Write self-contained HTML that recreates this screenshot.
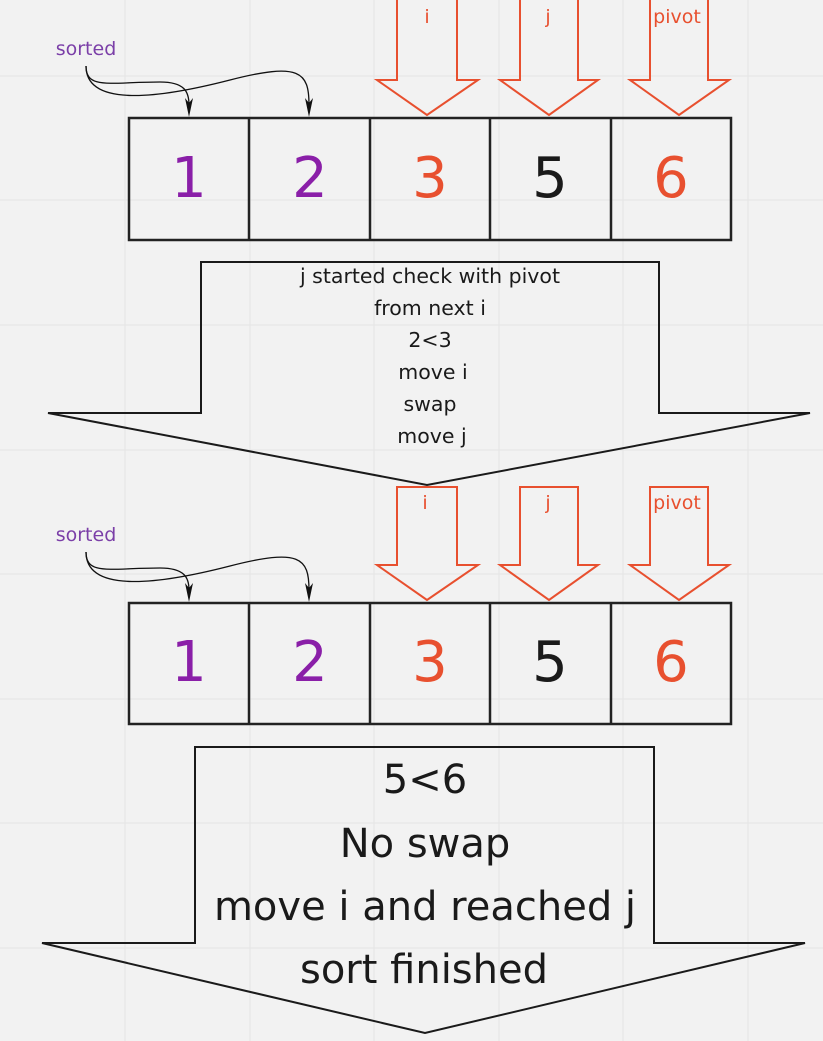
<!DOCTYPE html>
<html><head><meta charset="utf-8"><style>
body{margin:0;background:#f2f2f2;}
svg{display:block;font-family:"DejaVu Sans","Liberation Sans",sans-serif;}
</style></head><body>
<svg width="823" height="1041" viewBox="0 0 823 1041">
<g stroke="#e4e4e4" stroke-width="1">
<line x1="125" y1="0" x2="125" y2="1041"/><line x1="250" y1="0" x2="250" y2="1041"/><line x1="374" y1="0" x2="374" y2="1041"/><line x1="499" y1="0" x2="499" y2="1041"/><line x1="623" y1="0" x2="623" y2="1041"/><line x1="748" y1="0" x2="748" y2="1041"/>
<line x1="0" y1="76" x2="823" y2="76"/><line x1="0" y1="200" x2="823" y2="200"/><line x1="0" y1="325" x2="823" y2="325"/><line x1="0" y1="450" x2="823" y2="450"/><line x1="0" y1="574" x2="823" y2="574"/><line x1="0" y1="699" x2="823" y2="699"/><line x1="0" y1="823" x2="823" y2="823"/><line x1="0" y1="948" x2="823" y2="948"/>
</g>

<g>
<text x="86" y="55" font-size="19" fill="#7b3fa8" text-anchor="middle">sorted</text>
<path d="M86,66 C86,90 110,82 160,82 C185,82 189,92 189,105" fill="none" stroke="#111" stroke-width="1.3"/>
<path d="M86,66 C86,108 160,98 230,80 C300,62 309,72 309,105" fill="none" stroke="#111" stroke-width="1.3"/>
<path d="M185,98 L189,117 L193,98 L189,103 Z M305,98 L309,117 L313,98 L309,103 Z" fill="#111"/>
<g fill="none" stroke="#e8502f" stroke-width="2">
<path d="M397,0 V80 H377 L427,115 L478,80 H457 V0"/>
<path d="M520,0 V80 H500 L549,115 L598,80 H578 V0"/>
<path d="M650,0 V80 H630 L679,115 L729,80 H708 V0"/>
</g>
<g fill="#e8502f" font-size="19" text-anchor="middle">
<text x="427" y="23">i</text><text x="548" y="23">j</text><text x="677" y="23">pivot</text></g>
<g fill="none" stroke="#222" stroke-width="2.5">
<rect x="129" y="118" width="602" height="122"/>
<line x1="249" y1="118" x2="249" y2="240"/><line x1="370" y1="118" x2="370" y2="240"/><line x1="490" y1="118" x2="490" y2="240"/><line x1="611" y1="118" x2="611" y2="240"/></g>
<g font-size="56" text-anchor="middle">
<text x="189" y="197" fill="#8a1fa8">1</text><text x="310" y="197" fill="#8a1fa8">2</text><text x="430" y="197" fill="#e8502f">3</text><text x="550" y="197" fill="#1a1a1a">5</text><text x="671" y="197" fill="#e8502f">6</text></g>
<path d="M201,262 H659 V413 H810 L427,485 L48,413 H201 Z" fill="none" stroke="#1a1a1a" stroke-width="2"/>
<g font-size="20.5" fill="#1a1a1a" text-anchor="middle">
<text x="430" y="283">j started check with pivot</text><text x="430" y="315">from next i</text><text x="430" y="347">2&lt;3</text><text x="433" y="379">move i</text><text x="430" y="411">swap</text><text x="432" y="443">move j</text></g>
</g>

<g>
<text x="86" y="541" font-size="19" fill="#7b3fa8" text-anchor="middle">sorted</text>
<path d="M86,552 C86,576 110,568 160,568 C185,568 189,578 189,590" fill="none" stroke="#111" stroke-width="1.3"/>
<path d="M86,552 C86,594 160,584 230,566 C300,548 309,558 309,590" fill="none" stroke="#111" stroke-width="1.3"/>
<path d="M185,583 L189,602 L193,583 L189,588 Z M305,583 L309,602 L313,583 L309,588 Z" fill="#111"/>
<g fill="none" stroke="#e8502f" stroke-width="2">
<path d="M397,487 V565 H377 L427,600 L478,565 H457 V487 Z"/>
<path d="M520,487 V565 H500 L549,600 L598,565 H578 V487 Z"/>
<path d="M650,487 V565 H630 L679,600 L729,565 H708 V487 Z"/>
</g>
<g fill="#e8502f" font-size="19" text-anchor="middle">
<text x="425" y="509">i</text><text x="548" y="509">j</text><text x="677" y="509">pivot</text></g>
<g fill="none" stroke="#222" stroke-width="2.5">
<rect x="129" y="603" width="602" height="121"/>
<line x1="249" y1="603" x2="249" y2="724"/><line x1="370" y1="603" x2="370" y2="724"/><line x1="490" y1="603" x2="490" y2="724"/><line x1="611" y1="603" x2="611" y2="724"/></g>
<g font-size="56" text-anchor="middle">
<text x="189" y="681" fill="#8a1fa8">1</text><text x="310" y="681" fill="#8a1fa8">2</text><text x="430" y="681" fill="#e8502f">3</text><text x="550" y="681" fill="#1a1a1a">5</text><text x="671" y="681" fill="#e8502f">6</text></g>
<path d="M195,747 H654 V943 H805 L425,1033 L42,943 H195 Z" fill="none" stroke="#1a1a1a" stroke-width="2"/>
<g font-size="40" fill="#1a1a1a" text-anchor="middle">
<text x="425" y="793">5&lt;6</text><text x="425" y="857">No swap</text><text x="425" y="920">move i and reached j</text><text x="424" y="983">sort finished</text></g>
</g>
</svg>
</body></html>
